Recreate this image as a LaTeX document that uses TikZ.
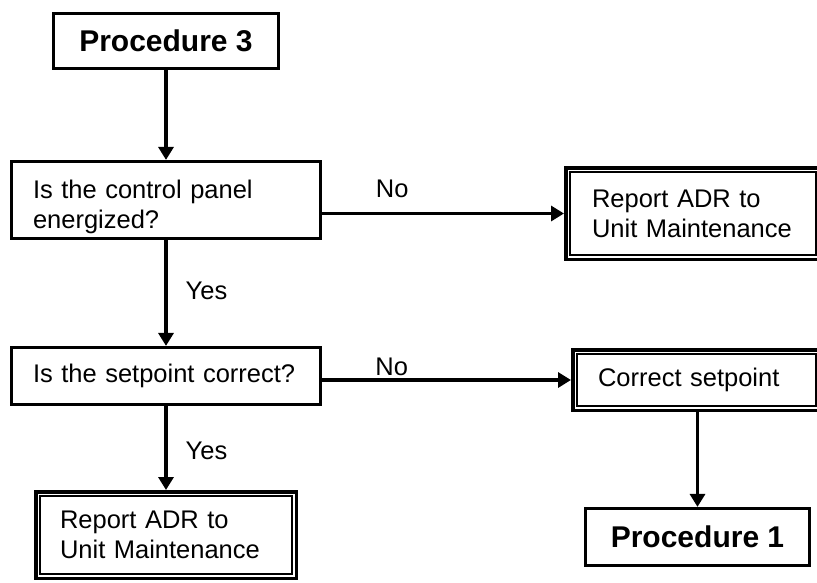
\documentclass[tikz,border=0pt]{standalone}
\usepackage{fontspec}
\setmainfont{Liberation Sans}
\usetikzlibrary{arrows.meta}
\begin{document}
\begin{tikzpicture}[x=1pt,y=-1pt,
  txt/.style={font=\fontsize{25.5}{30}\selectfont},
  box/.style={draw=black,line width=3.2pt,inner sep=0pt,txt},
  dbox/.style={draw=black,line width=3.5pt,inner sep=0pt,txt},
  proc/.style={box,font=\fontsize{30}{36}\selectfont\bfseries},
  flow/.style={line width=3.4pt,-{Triangle[length=13pt,width=15pt]}},
  lbl/.style={inner sep=0pt,txt}]
\useasboundingbox (0,0) rectangle (817,582);
% boxes
\node[proc,minimum width=225pt,minimum height=55pt] (proc3) at (166,41) {Procedure 3};
\node[box,minimum width=309pt,minimum height=77pt,text width=266pt,align=left] (panel) at (166,200) {\rule{0pt}{33pt}Is the control panel\\energized?};
\node[dbox,minimum width=254.5pt,minimum height=91.5pt,text width=202pt,align=left] (adr1) at (693,213.5) {Report ADR to\\Unit Maintenance};
\node[box,minimum width=309pt,minimum height=57pt,text width=266pt,align=left] (setpt) at (166,376) {Is the setpoint correct?};
\node[dbox,minimum width=247.5pt,minimum height=60.5pt,text width=197pt,align=left] (fix) at (696.5,380) {Correct setpoint};
\node[dbox,minimum width=260.5pt,minimum height=86.5pt,text width=212pt,align=left] (adr2) at (166,535) {Report ADR to\\Unit Maintenance};
\node[proc,minimum width=224pt,minimum height=57pt] (proc1) at (697.5,537) {Procedure 1};
% inner line of the double boxes
\foreach \n in {adr1,fix,adr2}
  \draw[line width=1.8pt] ([shift={(6.2pt,-6.2pt)}]\n.north west) rectangle ([shift={(-6.2pt,6.2pt)}]\n.south east);
% arrows
\draw[flow] (proc3) -- (panel);
\draw[flow] (panel.east |- adr1.west) -- node[lbl,pos=0.29,anchor=base,yshift=16pt] {No} (adr1.west);
\draw[flow] (panel) -- node[lbl,pos=0.48,right=18pt] {Yes} (setpt);
\draw[flow] (setpt.east |- fix.west) -- node[lbl,pos=0.28,anchor=base,yshift=5pt] {No} (fix.west);
\draw[flow] (setpt) -- node[lbl,pos=0.53,right=18pt] {Yes} (adr2);
\draw[flow] (fix.south -| proc1.north) -- (proc1.north);
\end{tikzpicture}
\end{document}
